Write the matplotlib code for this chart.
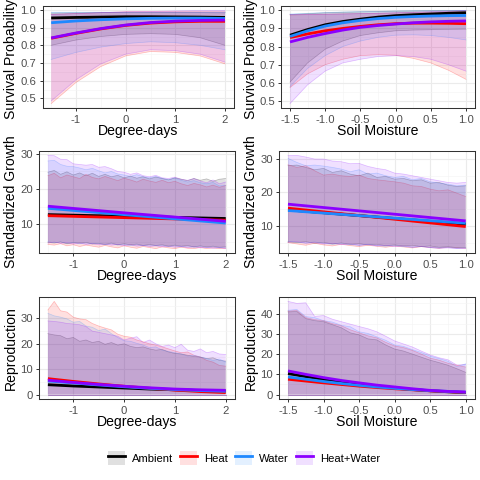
import numpy as np
import matplotlib.pyplot as plt
from matplotlib.patches import Patch
from matplotlib.lines import Line2D

plt.rcParams['font.family'] = ['Liberation Sans', 'DejaVu Sans']
plt.rcParams['axes.unicode_minus'] = False

grupos = ['Ambient', 'Heat', 'Water', 'Heat+Water']
colores = {'Ambient': '#000000', 'Heat': '#FF0000',
           'Water': '#1E88FF', 'Heat+Water': '#8B00FF'}

# rejillas de x
dd_linea = [-1.5, -1.0, -0.5, 0.0, 0.5, 1.0, 1.5, 2.0]
sm_linea = [-1.5, -1.25, -1.0, -0.75, -0.5, -0.25, 0.0, 0.25, 0.5, 0.75, 1.0]
dd_recta = [-1.5, 0.25, 2.0]
sm_recta = [-1.5, -0.25, 1.0]
dd_fino = np.linspace(-1.5, 2.0, 29)
sm_fino = np.linspace(-1.5, 1.0, 21)

# --- supervivencia vs degree-days ---
surv_dd_fit = {
    'Ambient':    [0.955, 0.958, 0.960, 0.962, 0.962, 0.961, 0.960, 0.958],
    'Heat':       [0.840, 0.868, 0.893, 0.913, 0.926, 0.933, 0.936, 0.936],
    'Water':      [0.928, 0.938, 0.945, 0.950, 0.953, 0.954, 0.954, 0.952],
    'Heat+Water': [0.842, 0.870, 0.895, 0.915, 0.929, 0.937, 0.941, 0.943],
}
surv_dd_lo = {
    'Ambient':    [0.800, 0.830, 0.850, 0.862, 0.866, 0.862, 0.843, 0.800],
    'Heat':       [0.470, 0.590, 0.680, 0.740, 0.765, 0.760, 0.740, 0.695],
    'Water':      [0.720, 0.760, 0.790, 0.810, 0.820, 0.815, 0.800, 0.775],
    'Heat+Water': [0.485, 0.605, 0.695, 0.750, 0.775, 0.770, 0.750, 0.705],
}
surv_dd_hi = {
    'Ambient':    [0.983, 0.984, 0.985, 0.986, 0.986, 0.986, 0.985, 0.984],
    'Heat':       [0.975, 0.980, 0.985, 0.990, 0.990, 0.990, 0.990, 0.990],
    'Water':      [0.990, 0.990, 0.990, 0.990, 0.990, 0.990, 0.990, 0.990],
    'Heat+Water': [0.975, 0.980, 0.985, 0.990, 0.992, 0.995, 0.997, 0.998],
}

# --- supervivencia vs soil moisture ---
surv_sm_fit = {
    'Ambient':    [0.862, 0.893, 0.919, 0.937, 0.950, 0.961, 0.969, 0.974, 0.978, 0.982, 0.985],
    'Heat':       [0.849, 0.869, 0.886, 0.899, 0.910, 0.919, 0.925, 0.928, 0.928, 0.927, 0.925],
    'Water':      [0.855, 0.886, 0.912, 0.930, 0.943, 0.953, 0.960, 0.964, 0.967, 0.969, 0.970],
    'Heat+Water': [0.825, 0.850, 0.871, 0.890, 0.905, 0.915, 0.923, 0.930, 0.935, 0.938, 0.940],
}
surv_sm_lo = {
    'Ambient':    [0.605, 0.710, 0.785, 0.830, 0.860, 0.875, 0.886, 0.890, 0.892, 0.894, 0.895],
    'Heat':       [0.575, 0.650, 0.700, 0.730, 0.750, 0.755, 0.752, 0.735, 0.710, 0.670, 0.620],
    'Water':      [0.580, 0.680, 0.750, 0.800, 0.830, 0.850, 0.862, 0.864, 0.860, 0.850, 0.836],
    'Heat+Water': [0.487, 0.590, 0.665, 0.710, 0.730, 0.745, 0.750, 0.745, 0.730, 0.700, 0.665],
}
surv_sm_hi = {
    'Ambient':    [0.975, 0.980, 0.985, 0.988, 0.990, 0.992, 0.994, 0.995, 0.996, 0.997, 0.998],
    'Heat':       [0.972, 0.975, 0.977, 0.979, 0.980, 0.982, 0.984, 0.986, 0.988, 0.990, 0.992],
    'Water':      [0.978, 0.982, 0.986, 0.989, 0.991, 0.993, 0.995, 0.996, 0.997, 0.998, 0.998],
    'Heat+Water': [0.975, 0.976, 0.977, 0.978, 0.980, 0.982, 0.985, 0.988, 0.991, 0.994, 0.997],
}

# --- crecimiento vs degree-days ---
grow_dd_fit = {
    'Ambient':    [12.7, 12.15, 11.6],
    'Heat':       [12.4, 11.75, 11.1],
    'Water':      [14.5, 12.4, 10.3],
    'Heat+Water': [15.1, 12.9, 10.8],
}
grow_dd_lo = {
    'Ambient':    [4.8, 4.6, 4.9, 4.4, 4.7, 4.6, 4.8, 4.3, 4.5, 4.2, 4.6, 4.1, 4.4, 4.1, 4.3, 3.9, 4.2, 3.9, 4.1, 3.7, 4.0, 3.7, 3.9, 3.5, 3.8, 3.5, 3.7, 3.4, 3.5],
    'Heat':       [4.2, 4.0, 4.4, 3.8, 4.1, 3.6, 4.0, 3.7, 3.4, 3.9, 3.5, 3.2, 3.8, 3.4, 3.1, 3.6, 3.3, 3.0, 3.5, 3.2, 3.0, 3.4, 3.1, 3.0, 3.3, 3.0, 3.2, 3.0, 3.1],
    'Water':      [5.0, 4.7, 4.9, 4.5, 4.8, 4.4, 4.6, 4.4, 4.5, 4.1, 4.4, 4.0, 4.2, 3.9, 4.1, 3.8, 4.0, 3.8, 3.9, 3.6, 3.8, 3.5, 3.7, 3.4, 3.6, 3.3, 3.5, 3.2, 3.4],
    'Heat+Water': [4.6, 4.9, 4.5, 4.7, 4.3, 4.6, 4.2, 4.4, 4.1, 4.3, 4.0, 4.2, 3.8, 4.1, 3.7, 3.9, 3.6, 3.8, 3.5, 3.7, 3.4, 3.6, 3.3, 3.5, 3.2, 3.4, 3.1, 3.3, 3.0],
}
grow_dd_hi = {
    'Ambient':    [24.8, 25.3, 24.2, 24.9, 24.0, 24.6, 23.8, 24.5, 23.6, 24.2, 23.5, 23.9, 23.2, 23.7, 23.1, 23.5, 22.9, 23.4, 23.0, 22.6, 23.2, 22.8, 22.4, 23.0, 22.5, 22.9, 22.2, 22.8, 23.0],
    'Heat':       [23.8, 24.5, 23.2, 24.0, 23.5, 23.0, 24.2, 23.3, 22.9, 23.6, 23.0, 22.4, 23.1, 22.6, 22.0, 22.8, 22.3, 21.9, 22.5, 21.8, 22.2, 21.5, 21.0, 21.6, 21.2, 20.6, 21.1, 20.5, 21.0],
    'Water':      [28.0, 28.2, 27.0, 26.5, 26.4, 26.0, 25.5, 25.9, 25.2, 24.6, 25.0, 24.3, 24.0, 23.6, 24.1, 23.5, 23.2, 23.6, 23.0, 22.7, 23.1, 22.5, 22.0, 22.4, 21.8, 21.5, 21.9, 20.9, 21.0],
    'Heat+Water': [29.6, 29.5, 28.5, 28.4, 27.2, 27.0, 26.8, 27.0, 26.2, 26.4, 25.8, 25.0, 24.8, 24.2, 24.6, 23.8, 23.5, 23.9, 23.2, 23.0, 23.4, 22.8, 22.5, 23.0, 22.3, 21.8, 22.6, 21.5, 22.0],
}

# --- crecimiento vs soil moisture ---
grow_sm_fit = {
    'Ambient':    [14.8, 12.65, 10.5],
    'Heat':       [15.3, 12.55, 9.8],
    'Water':      [14.6, 12.7, 10.8],
    'Heat+Water': [16.5, 14.0, 11.5],
}
grow_sm_lo = {
    'Ambient':    [5.2, 5.0, 5.3, 4.8, 5.1, 4.6, 4.9, 4.5, 4.7, 4.3, 4.5, 4.1, 4.3, 4.0, 4.2, 3.8, 4.0, 3.6, 3.8, 3.5, 3.6],
    'Heat':       [5.0, 4.6, 4.2, 4.8, 4.3, 4.0, 4.5, 4.1, 3.8, 4.2, 3.9, 3.6, 4.0, 3.7, 3.4, 3.8, 3.5, 3.3, 3.6, 3.4, 3.3],
    'Water':      [5.4, 5.1, 4.9, 5.2, 4.8, 4.5, 4.7, 4.4, 4.2, 4.5, 4.1, 3.9, 4.2, 3.8, 3.6, 3.9, 3.5, 3.4, 3.6, 3.3, 3.4],
    'Heat+Water': [5.1, 5.3, 4.8, 5.0, 4.6, 4.8, 4.4, 4.6, 4.2, 4.4, 4.0, 4.2, 3.8, 4.0, 3.6, 3.8, 3.5, 3.3, 3.4, 3.2, 3.3],
}
grow_sm_hi = {
    'Ambient':    [28.0, 28.2, 27.5, 26.8, 27.2, 26.0, 26.5, 25.5, 25.0, 25.8, 24.5, 24.8, 24.0, 24.2, 23.5, 23.8, 22.8, 23.0, 22.2, 21.8, 22.0],
    'Heat':       [28.3, 27.5, 28.0, 26.5, 25.2, 25.5, 25.0, 24.8, 25.2, 24.2, 23.8, 23.5, 23.2, 22.8, 22.0, 21.8, 21.0, 20.5, 20.8, 19.8, 18.8],
    'Water':      [30.2, 29.0, 28.0, 28.2, 27.9, 27.5, 27.0, 26.2, 26.8, 25.5, 25.8, 25.0, 24.5, 24.8, 23.8, 24.2, 23.2, 22.8, 22.5, 22.0, 22.2],
    'Heat+Water': [31.0, 31.1, 30.6, 30.0, 30.0, 29.4, 29.2, 28.6, 28.7, 27.8, 27.2, 26.8, 25.8, 25.5, 25.0, 24.5, 24.0, 23.5, 23.0, 22.8, 23.0],
}

# --- reproduccion vs degree-days ---
repr_dd_fit = {
    'Ambient':    [3.9, 3.4, 3.0, 2.6, 2.2, 1.9, 1.6, 1.4],
    'Heat':       [6.3, 5.2, 4.2, 3.3, 2.5, 1.8, 1.2, 0.8],
    'Water':      [5.4, 4.6, 3.8, 3.1, 2.5, 2.0, 1.6, 1.3],
    'Heat+Water': [5.7, 4.8, 4.0, 3.3, 2.7, 2.2, 1.9, 1.7],
}
repr_dd_hi = {
    'Ambient':    [24.0, 23.5, 23.2, 22.0, 22.5, 21.0, 21.5, 20.5, 21.0, 19.8, 20.5, 19.5, 20.0, 19.0, 18.5, 18.8, 18.0, 17.5, 17.8, 16.8, 16.2, 16.0, 15.5, 15.0, 14.8, 14.2, 14.5, 13.5, 13.2],
    'Heat':       [33.3, 36.7, 33.0, 32.5, 30.5, 29.8, 29.5, 28.0, 27.0, 26.2, 25.5, 23.8, 23.0, 22.6, 21.5, 20.8, 20.0, 19.5, 18.8, 18.0, 17.2, 16.5, 16.8, 15.5, 14.8, 13.5, 12.8, 11.5, 11.2],
    'Water':      [32.0, 31.0, 30.5, 29.8, 28.5, 28.8, 27.0, 26.5, 25.2, 25.8, 24.0, 22.5, 21.2, 21.0, 20.2, 19.5, 18.5, 18.8, 17.5, 17.0, 16.5, 16.0, 15.2, 15.5, 14.8, 14.2, 13.5, 14.0, 12.8],
    'Heat+Water': [29.0, 28.8, 28.5, 28.0, 27.8, 27.5, 26.8, 25.0, 24.5, 24.0, 23.5, 23.0, 21.5, 22.2, 22.8, 20.5, 21.5, 20.0, 19.0, 19.5, 18.5, 19.8, 17.5, 17.0, 18.0, 16.5, 17.0, 16.0, 15.8],
}
repr_dd_lo = {g: [0.0] * len(dd_fino) for g in grupos}

# --- reproduccion vs soil moisture ---
repr_sm_fit = {
    'Ambient':    [10.4, 8.9, 7.5, 6.2, 5.0, 4.0, 3.2, 2.5, 1.9, 1.4, 1.0],
    'Heat':       [7.6, 6.7, 5.8, 5.0, 4.2, 3.5, 2.9, 2.4, 1.9, 1.5, 1.1],
    'Water':      [8.7, 7.6, 6.5, 5.5, 4.6, 3.8, 3.1, 2.5, 2.0, 1.6, 1.2],
    'Heat+Water': [11.7, 10.0, 8.4, 7.0, 5.8, 4.7, 3.8, 2.9, 2.1, 1.6, 1.3],
}
repr_sm_hi = {
    'Ambient':    [40.8, 41.0, 37.5, 36.5, 36.0, 34.5, 33.0, 30.5, 29.5, 27.5, 27.0, 24.5, 22.5, 21.5, 20.0, 18.5, 17.0, 15.8, 14.5, 12.8, 11.0],
    'Heat':       [41.2, 41.5, 38.0, 37.0, 36.5, 35.0, 34.0, 32.0, 30.5, 29.0, 28.0, 25.8, 24.0, 23.2, 21.8, 20.0, 18.0, 17.0, 15.5, 14.5, 13.6],
    'Water':      [41.6, 42.0, 38.5, 38.0, 36.5, 35.8, 34.2, 33.5, 31.0, 30.2, 28.5, 26.8, 24.5, 23.8, 22.2, 20.8, 19.0, 17.8, 16.5, 13.8, 15.2],
    'Heat+Water': [46.0, 45.0, 45.3, 38.6, 39.0, 37.2, 36.0, 34.8, 33.6, 32.5, 31.0, 28.8, 26.5, 25.0, 23.5, 21.5, 19.6, 18.2, 17.2, 14.6, 14.8],
}
repr_sm_lo = {g: [0.0] * len(sm_fino) for g in grupos}

dd_ticks = [-1, 0, 1, 2]
dd_labels = ['-1', '0', '1', '2']
sm_ticks = [-1.5, -1.0, -0.5, 0.0, 0.5, 1.0]
sm_labels = ['-1.5', '-1.0', '-0.5', '0.0', '0.5', '1.0']
surv_ticks = [0.5, 0.6, 0.7, 0.8, 0.9, 1.0]
surv_labels = ['0.5', '0.6', '0.7', '0.8', '0.9', '1.0']
grow_ticks = [10, 20, 30]
repr_dd_ticks = [0, 10, 20, 30]
repr_sm_ticks = [0, 10, 20, 30, 40]


def caja(izq, arriba, der, abajo):
    return [izq / 480, 1 - abajo / 480, (der - izq) / 480, (abajo - arriba) / 480]


def menores(ticks):
    paso = ticks[1] - ticks[0]
    return [ticks[0] - paso / 2] + [t + paso / 2 for t in ticks]


def dibujar_panel(ax, x_fit, fit, x_rib, lo, hi, xticks, xlabels, yticks, ylabels,
                  xlabel, ylabel, ylab_x):
    for g in grupos:
        c = colores[g]
        ax.fill_between(x_rib, lo[g], hi[g], facecolor=c, alpha=0.12,
                        edgecolor='none', zorder=2)
        ax.plot(x_rib, lo[g], color=c, alpha=0.25, lw=0.5, zorder=2)
        ax.plot(x_rib, hi[g], color=c, alpha=0.25, lw=0.5, zorder=2)
    for g in grupos:
        ax.plot(x_fit, fit[g], color=colores[g], lw=2.0, zorder=3,
                solid_capstyle='butt')

    ax.set_xticks(xticks)
    ax.set_xticklabels(xlabels)
    ax.set_yticks(yticks)
    ax.set_yticklabels(ylabels)
    ax.set_xticks(menores(xticks), minor=True)
    ax.set_yticks(menores(yticks), minor=True)

    # limites con 5% de expansion, como ggplot
    xs = list(x_rib) + list(x_fit)
    ys = [v for g in grupos for v in list(lo[g]) + list(hi[g]) + list(fit[g])]
    x0, x1 = min(xs), max(xs)
    y0, y1 = min(ys), max(ys)
    ax.set_xlim(x0 - 0.05 * (x1 - x0), x1 + 0.05 * (x1 - x0))
    ax.set_ylim(y0 - 0.05 * (y1 - y0), y1 + 0.05 * (y1 - y0))

    ax.grid(which='major', color='#EBEBEB', lw=0.8, zorder=0)
    ax.grid(which='minor', color='#F4F4F4', lw=0.4, zorder=0)
    ax.set_axisbelow(True)
    ax.tick_params(which='major', length=2.5, width=0.7, color='#333333',
                   labelsize=8.1, labelcolor='#4D4D4D')
    ax.tick_params(axis='x', pad=2.0)
    ax.tick_params(axis='y', pad=2.0)
    ax.tick_params(which='minor', length=0)
    for s in ax.spines.values():
        s.set_color('#333333')
        s.set_linewidth(0.75)

    ax.set_xlabel(xlabel, fontsize=10.1, va='center')
    ax.xaxis.set_label_coords(0.5, -0.225)
    ax.set_ylabel(ylabel, fontsize=10.1, va='center')
    ax.yaxis.set_label_coords(ylab_x, 0.5)


fig = plt.figure(figsize=(4.8, 4.8), dpi=100)

ax1 = fig.add_axes(caja(42.5, 5.7, 233.7, 108.3))
dibujar_panel(ax1, dd_linea, surv_dd_fit, dd_linea, surv_dd_lo, surv_dd_hi,
              dd_ticks, dd_labels, surv_ticks, surv_labels,
              'Degree-days', 'Survival Probability', -0.165)
ax1.yaxis.set_label_coords(-0.165, 0.48)

ax2 = fig.add_axes(caja(281.2, 5.7, 474.8, 108.3))
dibujar_panel(ax2, sm_linea, surv_sm_fit, sm_linea, surv_sm_lo, surv_sm_hi,
              sm_ticks, sm_labels, surv_ticks, surv_labels,
              'Soil Moisture', 'Survival Probability', -0.158)
ax2.yaxis.set_label_coords(-0.158, 0.48)

ax3 = fig.add_axes(caja(39.0, 150.7, 234.6, 253.3))
dibujar_panel(ax3, dd_recta, grow_dd_fit, dd_fino, grow_dd_lo, grow_dd_hi,
              dd_ticks, dd_labels, grow_ticks, [str(t) for t in grow_ticks],
              'Degree-days', 'Standardized Growth', -0.142)

ax4 = fig.add_axes(caja(279.1, 150.7, 474.6, 253.3))
dibujar_panel(ax4, sm_recta, grow_sm_fit, sm_fino, grow_sm_lo, grow_sm_hi,
              sm_ticks, sm_labels, grow_ticks, [str(t) for t in grow_ticks],
              'Soil Moisture', 'Standardized Growth', -0.144)

ax5 = fig.add_axes(caja(39.0, 296.7, 234.6, 399.3))
dibujar_panel(ax5, dd_linea, repr_dd_fit, dd_fino, repr_dd_lo, repr_dd_hi,
              dd_ticks, dd_labels, repr_dd_ticks, [str(t) for t in repr_dd_ticks],
              'Degree-days', 'Reproduction', -0.142)

ax6 = fig.add_axes(caja(279.1, 296.7, 474.6, 399.3))
dibujar_panel(ax6, sm_linea, repr_sm_fit, sm_fino, repr_sm_lo, repr_sm_hi,
              sm_ticks, sm_labels, repr_sm_ticks, [str(t) for t in repr_sm_ticks],
              'Soil Moisture', 'Reproduction', -0.144)

manijas = [(Patch(facecolor=colores[g], alpha=0.12, edgecolor='none'),
            Line2D([], [], color=colores[g], lw=2.0)) for g in grupos]
fig.legend(manijas, grupos, loc='center', bbox_to_anchor=(0.508, 1 - 458 / 480),
           ncol=4, frameon=False, fontsize=8.1, handlelength=1.55,
           handleheight=1.55, handletextpad=0.6, columnspacing=0.6)

fig.savefig('out.png', dpi=100)
